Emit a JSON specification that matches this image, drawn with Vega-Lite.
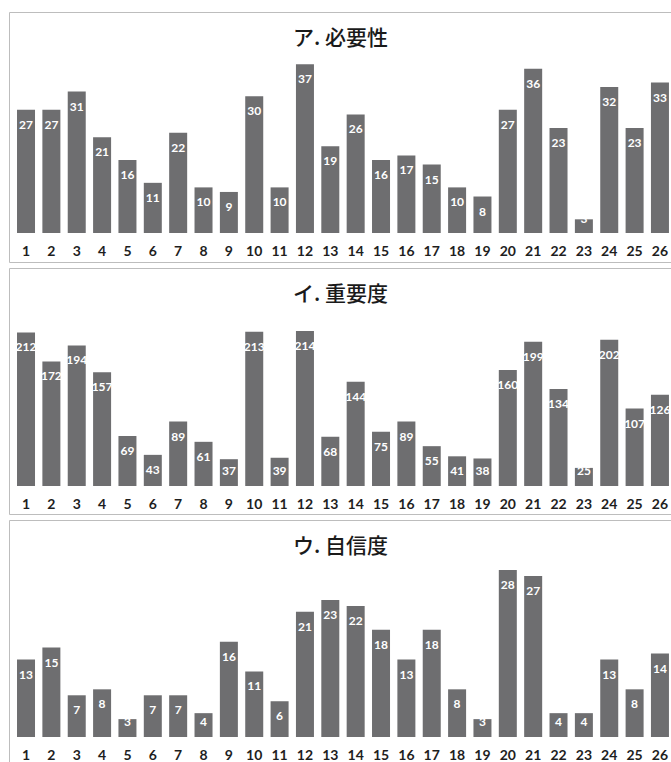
{
  "$schema": "https://vega.github.io/schema/vega-lite/v6.json",
  "padding": {"left": 8, "top": 11, "right": 0, "bottom": 0},
  "background": "white",
  "spacing": 4,
  "datasets": {
    "need": [
      {"n": 1, "v": 27}, {"n": 2, "v": 27}, {"n": 3, "v": 31}, {"n": 4, "v": 21}, {"n": 5, "v": 16},
      {"n": 6, "v": 11}, {"n": 7, "v": 22}, {"n": 8, "v": 10}, {"n": 9, "v": 9}, {"n": 10, "v": 30},
      {"n": 11, "v": 10}, {"n": 12, "v": 37}, {"n": 13, "v": 19}, {"n": 14, "v": 26}, {"n": 15, "v": 16},
      {"n": 16, "v": 17}, {"n": 17, "v": 15}, {"n": 18, "v": 10}, {"n": 19, "v": 8}, {"n": 20, "v": 27},
      {"n": 21, "v": 36}, {"n": 22, "v": 23}, {"n": 23, "v": 3}, {"n": 24, "v": 32}, {"n": 25, "v": 23},
      {"n": 26, "v": 33}
    ],
    "importance": [
      {"n": 1, "v": 212}, {"n": 2, "v": 172}, {"n": 3, "v": 194}, {"n": 4, "v": 157}, {"n": 5, "v": 69},
      {"n": 6, "v": 43}, {"n": 7, "v": 89}, {"n": 8, "v": 61}, {"n": 9, "v": 37}, {"n": 10, "v": 213},
      {"n": 11, "v": 39}, {"n": 12, "v": 214}, {"n": 13, "v": 68}, {"n": 14, "v": 144}, {"n": 15, "v": 75},
      {"n": 16, "v": 89}, {"n": 17, "v": 55}, {"n": 18, "v": 41}, {"n": 19, "v": 38}, {"n": 20, "v": 160},
      {"n": 21, "v": 199}, {"n": 22, "v": 134}, {"n": 23, "v": 25}, {"n": 24, "v": 202}, {"n": 25, "v": 107},
      {"n": 26, "v": 126}
    ],
    "confidence": [
      {"n": 1, "v": 13}, {"n": 2, "v": 15}, {"n": 3, "v": 7}, {"n": 4, "v": 8}, {"n": 5, "v": 3},
      {"n": 6, "v": 7}, {"n": 7, "v": 7}, {"n": 8, "v": 4}, {"n": 9, "v": 16}, {"n": 10, "v": 11},
      {"n": 11, "v": 6}, {"n": 12, "v": 21}, {"n": 13, "v": 23}, {"n": 14, "v": 22}, {"n": 15, "v": 18},
      {"n": 16, "v": 13}, {"n": 17, "v": 18}, {"n": 18, "v": 8}, {"n": 19, "v": 3}, {"n": 20, "v": 28},
      {"n": 21, "v": 27}, {"n": 22, "v": 4}, {"n": 23, "v": 4}, {"n": 24, "v": 13}, {"n": 25, "v": 8},
      {"n": 26, "v": 14}
    ]
  },
  "vconcat": [
    {
      "width": 663,
      "height": 250,
      "title": {"text": "ア. 必要性", "offset": -48, "baseline": "middle"},
      "data": {"name": "need"},
      "transform": [{"calculate": "max(datum.v, 6.4)", "as": "lab"}],
      "encoding": {
        "x": {
          "field": "n", "type": "ordinal",
          "scale": {"paddingInner": 0.29, "paddingOuter": 0.218, "align": 0.725},
          "axis": {"offset": -19.5}
        }
      },
      "layer": [
        {
          "mark": {"type": "bar", "color": "#6e6e70"},
          "encoding": {
            "y": {"field": "v", "type": "quantitative", "scale": {"domain": [-6.36, 48.46], "nice": false, "zero": false}, "axis": null}
          }
        },
        {
          "mark": {"type": "text", "color": "white", "fontWeight": "bold", "fontSize": 12, "font": "Lato", "baseline": "middle", "dy": 15},
          "encoding": {
            "y": {"field": "lab", "type": "quantitative", "scale": {"domain": [-6.36, 48.46], "nice": false, "zero": false}, "axis": null},
            "text": {"field": "v", "type": "quantitative"}
          }
        }
      ]
    },
    {
      "width": 663,
      "height": 246,
      "title": {"text": "イ. 重要度", "offset": -48, "baseline": "middle"},
      "data": {"name": "importance"},
      "transform": [{"calculate": "max(datum.v, 41.4)", "as": "lab"}],
      "encoding": {
        "x": {
          "field": "n", "type": "ordinal",
          "scale": {"paddingInner": 0.29, "paddingOuter": 0.218, "align": 0.725},
          "axis": {"offset": -19}
        }
      },
      "layer": [
        {
          "mark": {"type": "bar", "color": "#6e6e70"},
          "encoding": {
            "y": {"field": "v", "type": "quantitative", "scale": {"domain": [-38.66, 301.0], "nice": false, "zero": false}, "axis": null}
          }
        },
        {
          "mark": {"type": "text", "color": "white", "fontWeight": "bold", "fontSize": 12, "font": "Lato", "baseline": "middle", "dy": 15},
          "encoding": {
            "y": {"field": "lab", "type": "quantitative", "scale": {"domain": [-38.66, 301.0], "nice": false, "zero": false}, "axis": null},
            "text": {"field": "v", "type": "quantitative"}
          }
        }
      ]
    },
    {
      "width": 663,
      "height": 244,
      "title": {"text": "ウ. 自信度", "offset": -48, "baseline": "middle"},
      "data": {"name": "confidence"},
      "transform": [{"calculate": "max(datum.v, 5.1)", "as": "lab"}],
      "encoding": {
        "x": {
          "field": "n", "type": "ordinal",
          "scale": {"paddingInner": 0.29, "paddingOuter": 0.218, "align": 0.725},
          "axis": {"offset": -18}
        }
      },
      "layer": [
        {
          "mark": {"type": "bar", "color": "#6e6e70"},
          "encoding": {
            "y": {"field": "v", "type": "quantitative", "scale": {"domain": [-4.53, 36.41], "nice": false, "zero": false}, "axis": null}
          }
        },
        {
          "mark": {"type": "text", "color": "white", "fontWeight": "bold", "fontSize": 12, "font": "Lato", "baseline": "middle", "dy": 15},
          "encoding": {
            "y": {"field": "lab", "type": "quantitative", "scale": {"domain": [-4.53, 36.41], "nice": false, "zero": false}, "axis": null},
            "text": {"field": "v", "type": "quantitative"}
          }
        }
      ]
    }
  ],
  "config": {
    "view": {"stroke": "#bdbdbd", "strokeWidth": 1},
    "axisX": {
      "title": null,
      "labelAngle": 0,
      "domain": false,
      "ticks": false,
      "tickSize": 0,
      "grid": false,
      "labelPadding": 2,
      "labelFont": "Lato",
      "labelFontWeight": "bold",
      "labelFontSize": 14,
      "labelColor": "#1e1e1e",
      "labelBaseline": "top"
    },
    "title": {
      "font": "Noto Sans CJK JP",
      "fontSize": 21,
      "fontWeight": 500,
      "color": "#1a1a1a",
      "anchor": "middle"
    }
  }
}
